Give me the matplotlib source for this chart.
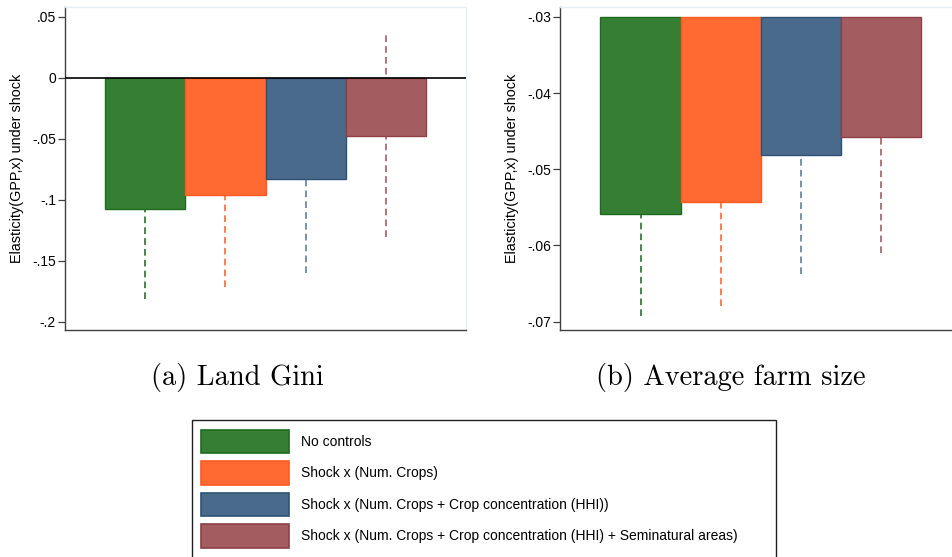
import matplotlib
matplotlib.use("Agg")
import matplotlib.pyplot as plt
from matplotlib.patches import Rectangle

plt.rcParams['font.family'] = ['Liberation Sans', 'DejaVu Sans']

# Estimates per specification (coef, lower CI, upper CI)
series = ["No controls",
          "Shock x (Num. Crops)",
          "Shock x (Num. Crops + Crop concentration (HHI))",
          "Shock x (Num. Crops + Crop concentration (HHI) + Seminatural areas)"]

gini_coef = [-0.1076, -0.0959, -0.0830, -0.0475]
gini_lo = [-0.1814, -0.1718, -0.1600, -0.1303]
gini_hi = [-0.0340, -0.0200, -0.0060, 0.0350]

size_coef = [-0.0559, -0.0543, -0.0481, -0.0457]
size_lo = [-0.0693, -0.0679, -0.0637, -0.0610]
size_hi = [-0.0425, -0.0407, -0.0325, -0.0304]

gini_ticks = [0.05, 0, -0.05, -0.1, -0.15, -0.2]
gini_ticklabels = [".05", "0", "-.05", "-.1", "-.15", "-.2"]
size_ticks = [-0.03, -0.04, -0.05, -0.06, -0.07]
size_ticklabels = ["-.03", "-.04", "-.05", "-.06", "-.07"]

captions = ["(a) Land Gini", "(b) Average farm size"]

fills = ["#367e33", "#ff6a32", "#4a6a8b", "#a35d60"]
edges = ["#1e6b1e", "#ff5a20", "#2c5273", "#8f3f47"]
ci_cols = ["#257225", "#ff6a32", "#5e7f9f", "#a35d60"]

W, H = 952, 557
fig = plt.figure(figsize=(W / 100, H / 100), dpi=100)
fig.patch.set_facecolor("white")


def panel(left_px, coef, lo, hi, base, ticks, ticklabels, ylim, caption, cap_x):
    ax = fig.add_axes([left_px / W, 1 - 330 / H, 401 / W, 323 / H])
    xs = range(1, len(coef) + 1)
    for i, x in enumerate(xs):
        ax.plot([x, x], [lo[i], hi[i]], color=ci_cols[i], lw=1.2,
                ls=(0, (4, 2.5)), zorder=1)
        ax.bar(x, coef[i] - base, bottom=base, width=1.0, color=fills[i],
               edgecolor=edges[i], linewidth=1.0, zorder=2)
    ax.set_xlim(0, 5)
    ax.set_ylim(*ylim)
    ax.set_xticks([])
    ax.set_yticks(ticks)
    ax.set_yticklabels(ticklabels)
    ax.tick_params(axis="y", direction="out", length=5, width=0.9,
                   color="#404040", labelsize=10, pad=1.5)
    for s in ["left", "bottom"]:
        ax.spines[s].set_color("#404040")
        ax.spines[s].set_linewidth(1.0)
    for s in ["top", "right"]:
        ax.spines[s].set_color("#e6eef2")
        ax.spines[s].set_linewidth(1.0)
    ax.set_ylabel("Elasticity(GPP,x) under shock", fontsize=10.4, labelpad=6)
    fig.text(cap_x / W, 1 - 377 / H, caption, family="cmr10", fontsize=20.5,
             ha="center", va="center")
    return ax


ax1 = panel(65, gini_coef, gini_lo, gini_hi, 0.0, gini_ticks, gini_ticklabels,
            (-0.2068, 0.0578), captions[0], 237)
ax1.axhline(0, color="black", lw=1.2, zorder=3)

ax2 = panel(560.3, size_coef, size_lo, size_hi, -0.03, size_ticks,
            size_ticklabels, (-0.0711, -0.0287), captions[1], 731)

# legend box, drawn in pixel units
lw_px, lh_px = 584, 150
lax = fig.add_axes([191.7 / W, 1 - (420 + lh_px) / H, lw_px / W, lh_px / H])
lax.set_xlim(0, lw_px)
lax.set_ylim(lh_px, 0)
lax.axis("off")
lax.add_patch(Rectangle((0, 0), lw_px, lh_px + 20, facecolor="white",
                        edgecolor="#202020", lw=1.0, clip_on=False))
for i, name in enumerate(series):
    top = 10 + i * 31.4
    lax.add_patch(Rectangle((9.3, top), 88.3, 23.4, facecolor=fills[i],
                            edgecolor=edges[i], lw=1.2))
    lax.text(109.3, top + 11.7, name, fontsize=10, va="center", ha="left")

fig.savefig("out.png", dpi=100)
